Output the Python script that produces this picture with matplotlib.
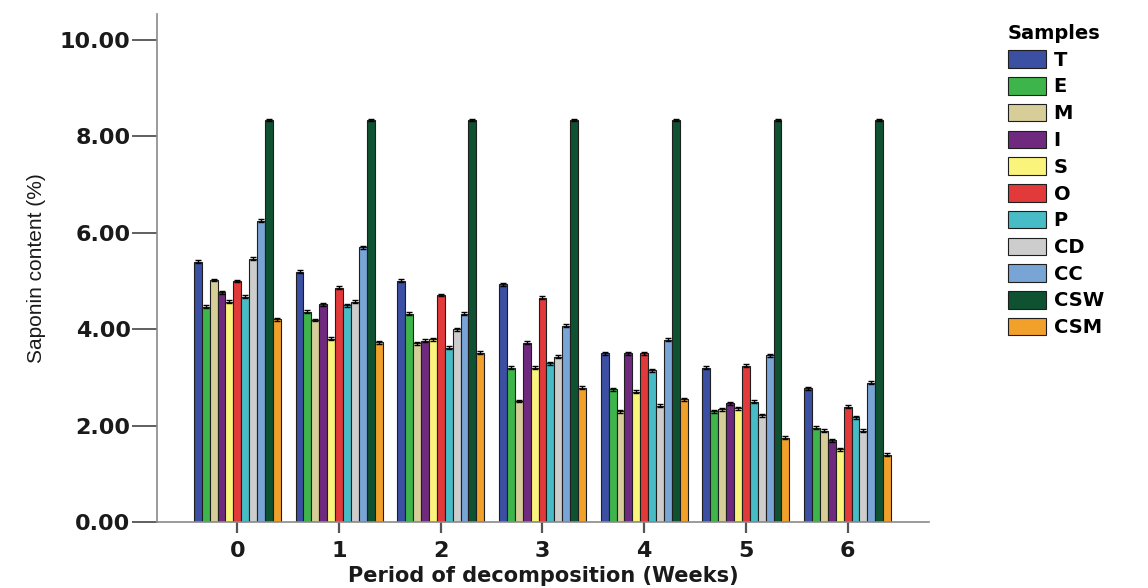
import matplotlib
matplotlib.use("Agg")
import matplotlib.pyplot as plt
import numpy as np

weeks = ["0", "1", "2", "3", "4", "5", "6"]
samples = ["T", "E", "M", "I", "S", "O", "P", "CD", "CC", "CSW", "CSM"]

T   = [5.40, 5.19, 5.01, 4.93, 3.50, 3.20, 2.77]
E   = [4.47, 4.36, 4.32, 3.20, 2.75, 2.30, 1.96]
M   = [5.02, 4.19, 3.71, 2.51, 2.30, 2.34, 1.89]
I   = [4.77, 4.52, 3.76, 3.72, 3.50, 2.46, 1.70]
S   = [4.57, 3.80, 3.79, 3.20, 2.70, 2.36, 1.51]
O   = [5.00, 4.86, 4.71, 4.65, 3.50, 3.24, 2.39]
P   = [4.67, 4.50, 3.62, 3.29, 3.15, 2.50, 2.17]
CD  = [5.46, 4.57, 4.00, 3.43, 2.41, 2.21, 1.89]
CC  = [6.25, 5.70, 4.32, 4.07, 3.78, 3.46, 2.89]
CSW = [8.34, 8.34, 8.34, 8.34, 8.34, 8.34, 8.34]
CSM = [4.21, 3.73, 3.51, 2.79, 2.55, 1.75, 1.40]

errors = [0.03, 0.03, 0.03, 0.03, 0.03, 0.03, 0.03, 0.03, 0.03, 0.03, 0.03]

series = [T, E, M, I, S, O, P, CD, CC, CSW, CSM]
colors = ["#3b4fa3", "#3db54b", "#d6cd98", "#6f2a7f", "#faf47c", "#e2393b",
          "#47bcc6", "#cdcdcd", "#79a4d6", "#0f5232", "#f1a02a"]

fig = plt.figure(figsize=(11.48, 5.88), dpi=100)
ax = fig.add_axes([157/1148, 1-522/588, (929-157)/1148, (522-14)/588])

x = np.arange(len(weeks))
n = len(samples)
group_w = 0.855
bw = group_w / n
for i, (name, vals, c) in enumerate(zip(samples, series, colors)):
    pos = x - group_w/2 + bw*(i+0.5)
    ax.bar(pos, vals, width=bw, color=c, edgecolor="#1e1e1e", linewidth=0.8,
           label=name, zorder=2)
    ax.errorbar(pos, vals, yerr=errors[i], fmt="none", ecolor="black",
                elinewidth=1.0, capsize=2.0, capthick=1.0, zorder=3)

ax.set_xlim(-0.79, 6.80)
ax.set_ylim(0, 10.54)
ax.set_yticks([0, 2, 4, 6, 8, 10])
ax.set_yticklabels(["0.00", "2.00", "4.00", "6.00", "8.00", "10.00"])
ax.set_xticks(x)
ax.set_xticklabels(weeks)

for s in ["top", "right"]:
    ax.spines[s].set_visible(False)
for s in ["left", "bottom"]:
    ax.spines[s].set_color("#8a8a8a")
    ax.spines[s].set_linewidth(1.2)

ax.tick_params(axis="y", length=18, width=1.2, color="#444444", pad=1)
ax.tick_params(axis="x", length=8, width=1.6, color="#555555", pad=6)
for lab in ax.get_yticklabels() + ax.get_xticklabels():
    lab.set_fontfamily("DejaVu Sans")
    lab.set_fontweight("bold")
    lab.set_fontsize(16)
    lab.set_color("#1a1a1a")

ax.set_ylabel("Saponin content (%)", fontfamily="Liberation Sans", fontsize=15,
              color="#1a1a1a", labelpad=10)
ax.set_xlabel("Period of decomposition (Weeks)", fontfamily="DejaVu Sans",
              fontweight="bold", fontsize=15, color="#1a1a1a", labelpad=3)

leg = ax.legend(loc="upper left", bbox_to_anchor=(1008/1148, 1-24/588),
                bbox_transform=fig.transFigure, frameon=False,
                title="Samples", prop={"family": "DejaVu Sans", "weight": "bold", "size": 14},
                handlelength=1.95, handleheight=1.0, handletextpad=0.4,
                labelspacing=0.38, borderaxespad=0, borderpad=0)
leg.get_title().set_fontweight("bold")
leg.get_title().set_fontsize(14)
leg.get_title().set_fontfamily("DejaVu Sans")
leg._legend_box.align = "left"

fig.savefig("out.png", dpi=100)
